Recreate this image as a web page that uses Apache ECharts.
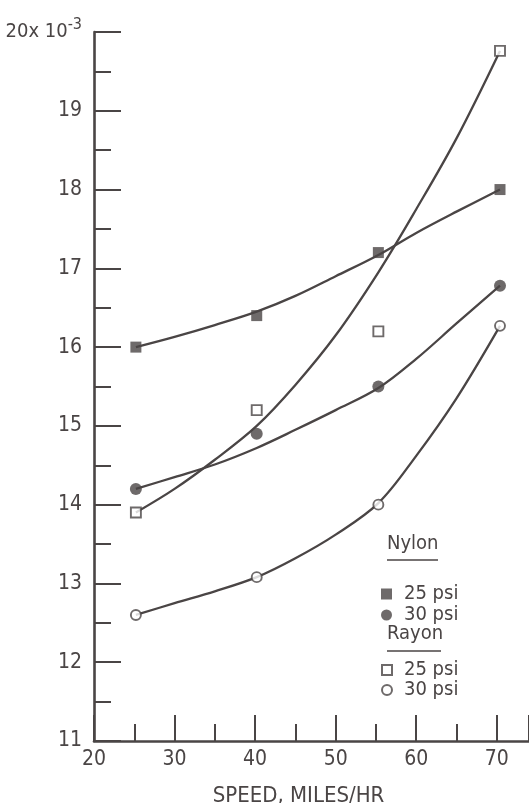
<!DOCTYPE html>
<html>
<head>
<meta charset="utf-8">
<script src="https://cdn.jsdelivr.net/npm/echarts@6/dist/echarts.min.js"></script>
<style>
html,body{margin:0;padding:0;background:#fff;}
#chart{width:529px;height:803px;}
</style>
</head>
<body>
<div id="chart"></div>
<script>
// ---- data ----
const speeds = [25.2, 40.2, 55.3, 70.4];
const nylon25 = [16.0, 16.4, 17.2, 18.0];
const nylon30 = [14.2, 14.9, 15.5, 16.78];
const rayon25 = [13.9, 15.2, 16.2, 19.76];
const rayon30 = [12.6, 13.08, 14.0, 16.27];

// faired curves as drawn in the reference (read at these speeds)
const curveSpeeds = [25.2, 30, 35, 40.2, 45, 50, 55.3, 60, 65, 70.4];
const nylon25Curve = [16.0, 16.13, 16.28, 16.45, 16.65, 16.9, 17.17, 17.45, 17.72, 18.0];
const nylon30Curve = [14.2, 14.35, 14.51, 14.72, 14.95, 15.2, 15.48, 15.85, 16.3, 16.78];
const rayon25Curve = [13.9, 14.2, 14.57, 15.0, 15.52, 16.15, 16.95, 17.75, 18.65, 19.76];
const rayon30Curve = [12.6, 12.75, 12.9, 13.08, 13.32, 13.62, 14.02, 14.62, 15.35, 16.27];

const xTicks = [20, 30, 40, 50, 60, 70];
const yTicks = [11, 12, 13, 14, 15, 16, 17, 18, 19, 20];
const yTopLabel = '20x 10';
const yTopExp = '-3';
const xName = 'SPEED, MILES/HR';
const yName = 'R';
const groupTitles = ['Nylon', 'Rayon'];

// ---- styling ----
const INK = '#4a4545';
const FONT = '"Liberation Sans Narrow", "DejaVu Sans", sans-serif';
const STRETCH = 'condensed';

function pairs(xs, ys) { return xs.map((x, i) => [x, ys[i]]); }

function curve(name, ys) {
  return {
    name: name, type: 'line', data: pairs(curveSpeeds, ys),
    smooth: 0.35, showSymbol: false, symbol: 'none', silent: true,
    lineStyle: { color: INK, width: 2.3 }, z: 2
  };
}
function points(name, ys, symbol, filled, size) {
  return {
    name: name, type: 'scatter', data: pairs(speeds, ys),
    symbol: symbol, symbolSize: size,
    itemStyle: filled
      ? { color: INK, borderColor: INK, borderWidth: 0 }
      : { color: '#ffffff', borderColor: INK, borderWidth: 1.9 },
    z: 5
  };
}
function txt(size, extra) {
  return Object.assign({ fontFamily: FONT, fontStyle: STRETCH, fontSize: size, color: INK }, extra || {});
}

const chart = echarts.init(document.getElementById('chart'), null, { renderer: 'canvas' });

const option = {
  backgroundColor: '#ffffff',
  animation: false,
  textStyle: { fontFamily: FONT, color: INK },
  grid: { left: 94, right: 0, top: 32, bottom: 62, containLabel: false, outerBoundsMode: 'none' },
  xAxis: {
    type: 'value', min: 20, max: 74, interval: 10,
    name: xName, nameLocation: 'middle', nameGap: 44,
    nameTextStyle: txt(22, { padding: [0, 26, 0, 0] }),
    axisLine: { lineStyle: { color: INK, width: 2.6 } },
    axisTick: { inside: true, length: 26, lineStyle: { color: INK, width: 2 } },
    minorTick: { show: true, splitNumber: 2, length: 17, lineStyle: { color: INK, width: 2 } },
    axisLabel: Object.assign(txt(21), {
      margin: 8, showMaxLabel: false,
      formatter: v => (xTicks.indexOf(v) >= 0 ? String(v) : '')
    }),
    splitLine: { show: false }
  },
  yAxis: {
    type: 'value', min: 11, max: 20, interval: 1,
    name: yName, nameLocation: 'middle', nameGap: 54, nameRotate: 90,
    nameTextStyle: txt(19),
    axisLine: { lineStyle: { color: INK, width: 2.6 } },
    axisTick: { inside: true, length: 27, lineStyle: { color: INK, width: 2 } },
    minorTick: { show: true, splitNumber: 2, length: 17, lineStyle: { color: INK, width: 2 } },
    axisLabel: Object.assign(txt(21), {
      margin: 12,
      formatter: v => (v === yTicks[yTicks.length - 1] ? '{a|' + yTopLabel + '}{sup|' + yTopExp + '}' : String(v)),
      rich: {
        a: txt(20),
        sup: txt(16, { padding: [0, 0, 15, 0] })
      }
    }),
    splitLine: { show: false }
  },
  legend: [
    {
      data: ['Nylon 25 psi', 'Nylon 30 psi'],
      orient: 'vertical', left: 376, top: 579, itemGap: 1,
      itemWidth: 11, itemHeight: 11,
      formatter: n => n.split(' ').slice(1).join(' '),
      textStyle: txt(20, { lineHeight: 18, padding: [0, 0, 0, 7] }),
      selectedMode: false
    },
    {
      data: ['Rayon 25 psi', 'Rayon 30 psi'],
      orient: 'vertical', left: 376, top: 655, itemGap: 0,
      itemWidth: 10, itemHeight: 10,
      formatter: n => n.split(' ').slice(1).join(' '),
      textStyle: txt(20, { lineHeight: 17, padding: [0, 0, 0, 7] }),
      selectedMode: false
    }
  ],
  graphic: [
    { type: 'text', left: 387, top: 534, style: { text: groupTitles[0], font: STRETCH + ' 20px ' + FONT, fill: INK } },
    { type: 'line', shape: { x1: 387, y1: 560, x2: 438, y2: 560 }, style: { stroke: INK, lineWidth: 1.6 } },
    { type: 'text', left: 387, top: 624, style: { text: groupTitles[1], font: STRETCH + ' 20px ' + FONT, fill: INK } },
    { type: 'line', shape: { x1: 387, y1: 651, x2: 441, y2: 651 }, style: { stroke: INK, lineWidth: 1.6 } }
  ],
  series: [
    curve('c-n25', nylon25Curve),
    curve('c-n30', nylon30Curve),
    curve('c-r25', rayon25Curve),
    curve('c-r30', rayon30Curve),
    points('Nylon 25 psi', nylon25, 'rect', true, 11),
    points('Nylon 30 psi', nylon30, 'circle', true, 12),
    points('Rayon 25 psi', rayon25, 'rect', false, 10),
    points('Rayon 30 psi', rayon30, 'circle', false, 10)
  ]
};
chart.setOption(option);
</script>
</body>
</html>
